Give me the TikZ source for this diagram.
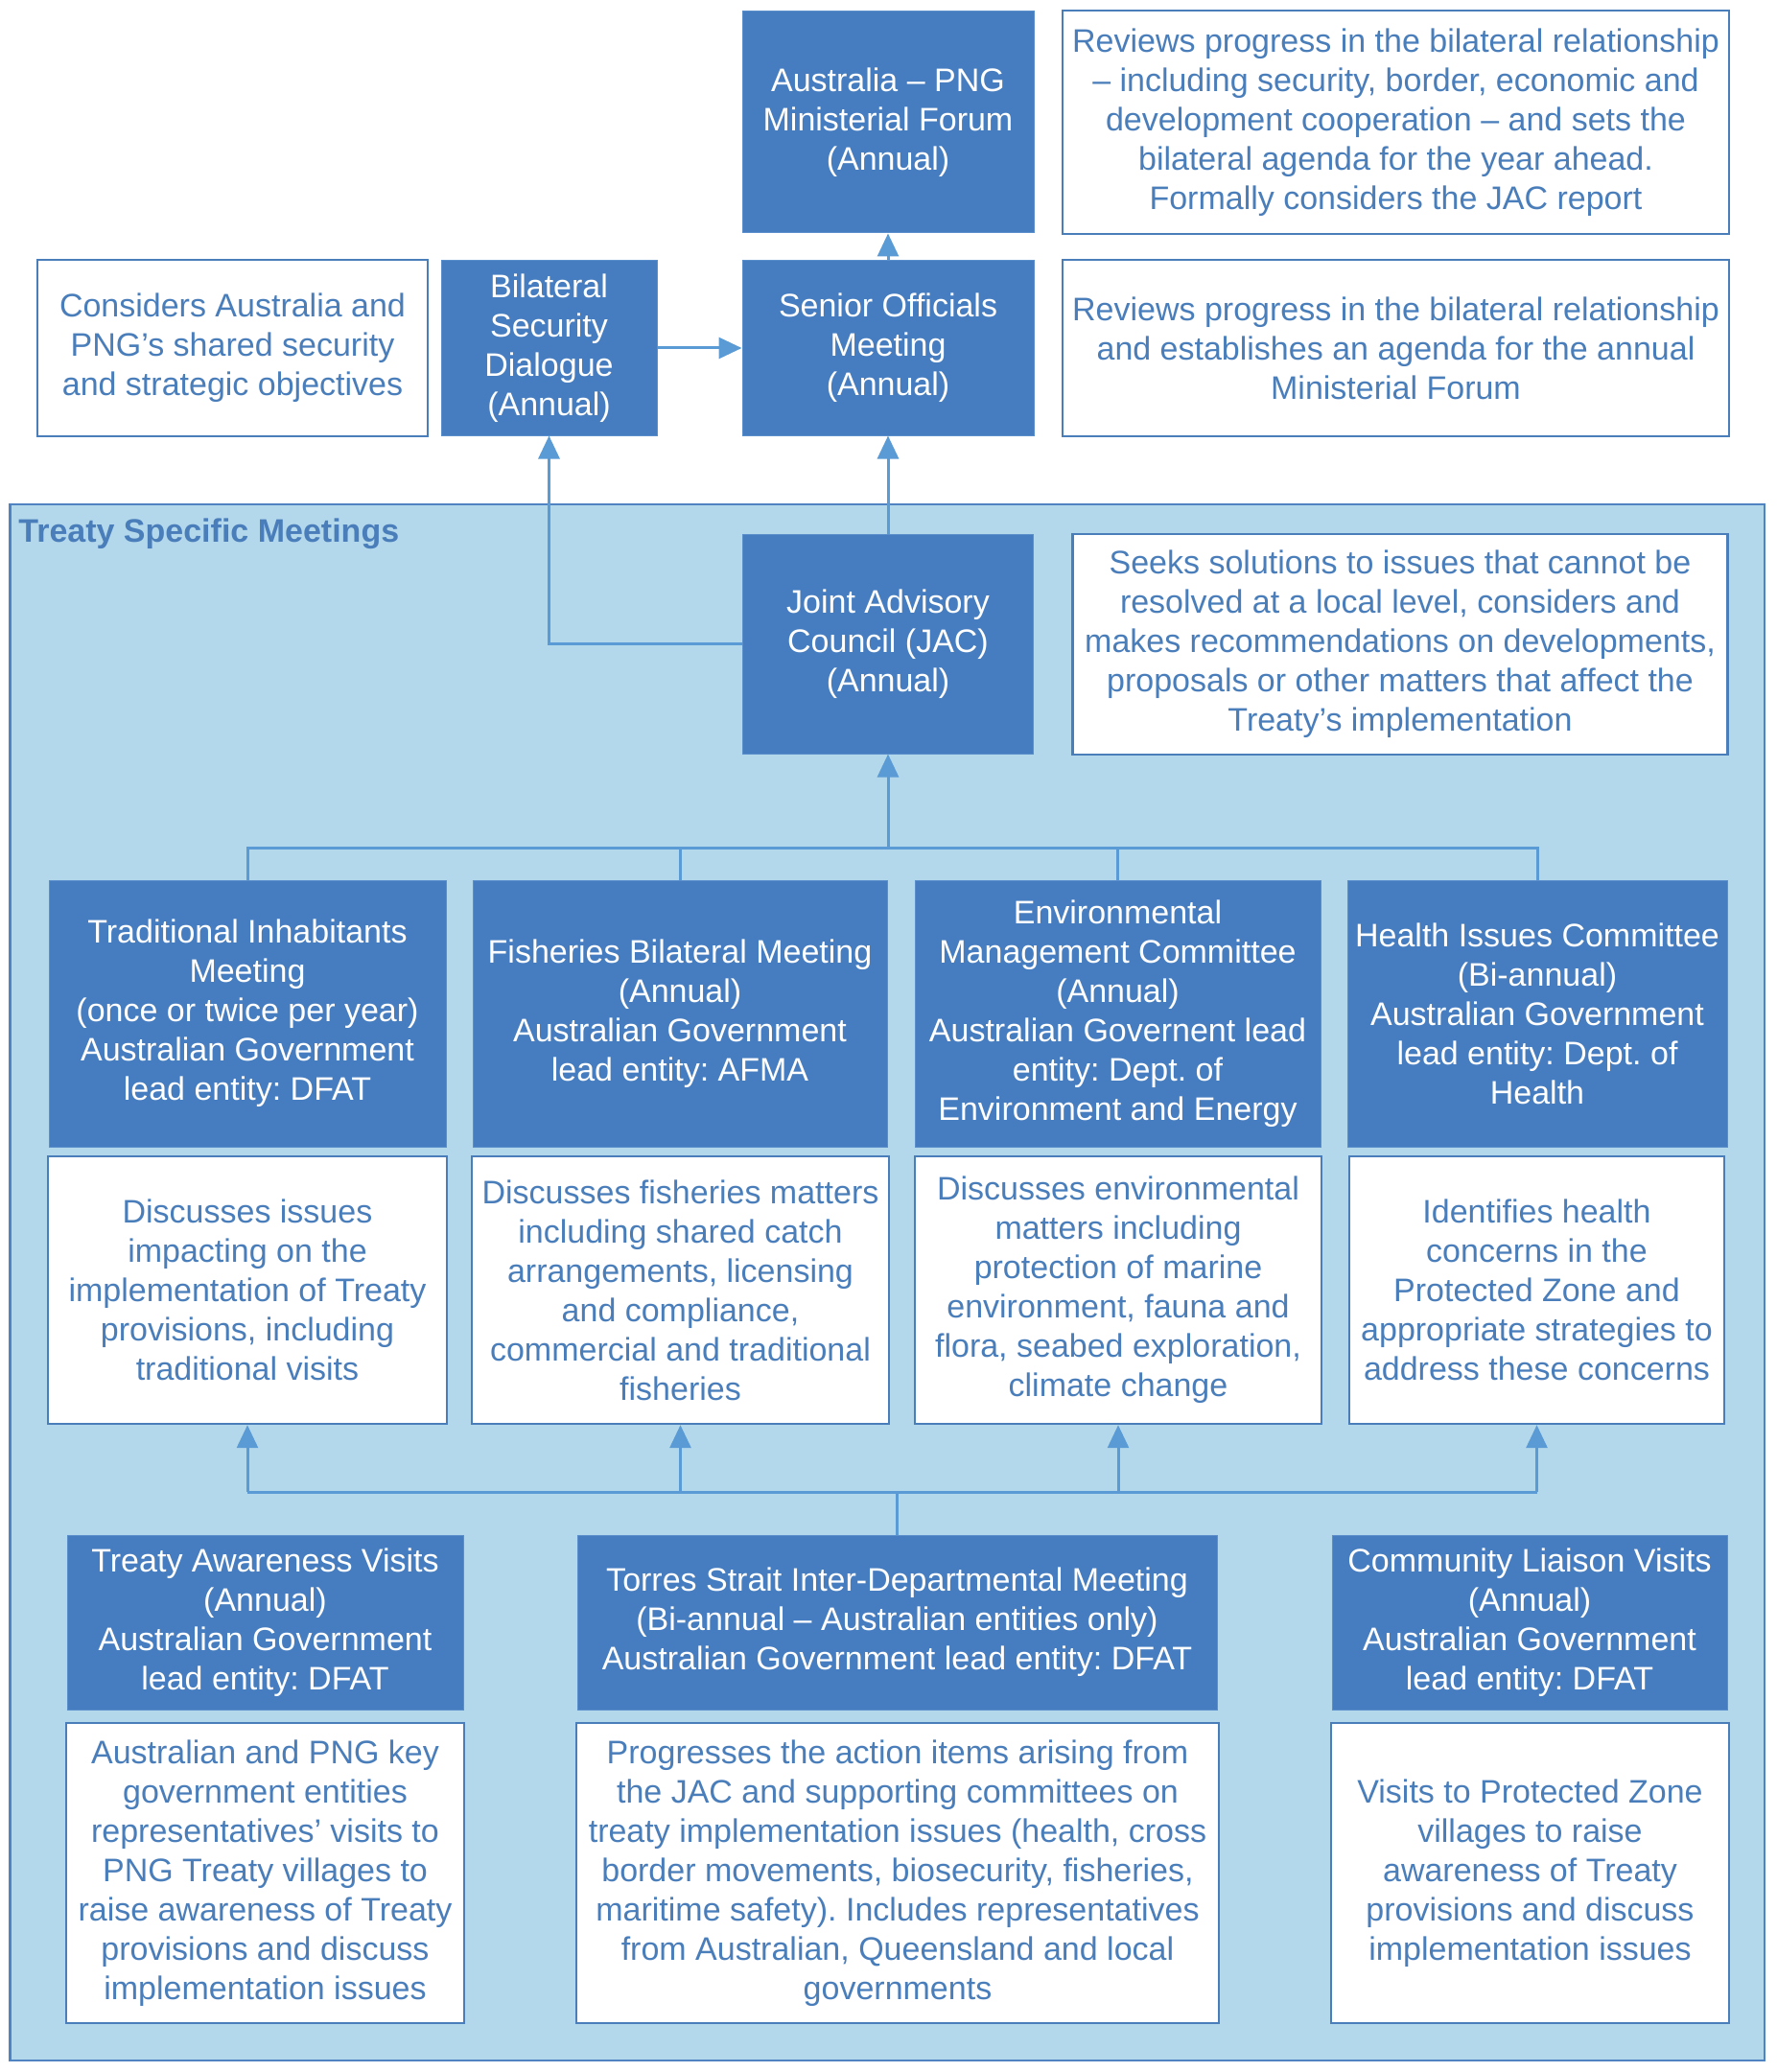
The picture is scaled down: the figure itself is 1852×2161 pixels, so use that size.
\documentclass[tikz,border=0pt]{standalone}
\usepackage{fontspec}
\setmainfont{Liberation Sans}
\usetikzlibrary{arrows.meta}
\definecolor{darkblue}{HTML}{467DC0}
\definecolor{darkedge}{HTML}{5A8FCC}
\definecolor{txtblue}{HTML}{4A7EBB}
\definecolor{lineblue}{HTML}{5B9BD5}
\definecolor{contfill}{HTML}{B4D8EB}
\definecolor{contedge}{HTML}{4F83C2}
\frenchspacing
\tikzset{
  basefont/.style={font=\fontsize{17pt}{20.5pt}\selectfont},
  dbox/.style={basefont, fill=darkblue, draw=darkedge, line width=0.5pt, text=white, align=center, inner sep=0pt},
  wbox/.style={basefont, fill=white, draw=txtblue, line width=1.2pt, text=txtblue, align=center, inner sep=0pt},
  conn/.style={draw=lineblue, line width=1.5pt},
  arr/.style={conn, -{Triangle[length=12pt,width=11pt]}},
}
\begin{document}
\begin{tikzpicture}[x=0.5pt,y=-0.5pt]
\useasboundingbox (0,0) rectangle (1852,2161);
% container
\draw[fill=contfill, draw=contedge, line width=1.3pt] (10.6,526) rectangle (1840,2149);
\node[basefont, font=\fontsize{17pt}{20.5pt}\selectfont\bfseries, text=txtblue, anchor=base west, inner sep=0pt] (lbl) at (19,565.5) {Treaty Specific Meetings};

% top level
\node[dbox, minimum width=152pt, minimum height=115.5pt] (mf) at (926,127.5) {Australia – PNG\\Ministerial Forum\\(Annual)};
\node[wbox, minimum width=347.5pt, minimum height=116.5pt] (mfd) at (1455.5,127.5) {Reviews progress in the bilateral relationship\\– including security, border, economic and\\development cooperation – and sets the\\bilateral agenda for the year ahead.\\Formally considers the JAC report};
\node[wbox, minimum width=203.5pt, minimum height=92pt] (bsdd) at (242.5,363) {Considers Australia and\\PNG’s shared security\\and strategic objectives};
\node[dbox, minimum width=112.5pt, minimum height=91pt] (bsd) at (572.5,363) {Bilateral\\Security\\Dialogue\\(Annual)};
\node[dbox, minimum width=152pt, minimum height=91pt] (som) at (926,363) {Senior Officials\\Meeting\\(Annual)};
\node[wbox, minimum width=347.5pt, minimum height=92pt] (somd) at (1455.5,363) {Reviews progress in the bilateral relationship\\and establishes an agenda for the annual\\Ministerial Forum};

% JAC
\node[dbox, minimum width=151.5pt, minimum height=114.5pt] (jac) at (926,671.5) {Joint Advisory\\Council (JAC)\\(Annual)};
\node[wbox, minimum width=341.5pt, minimum height=115pt] (jacd) at (1460,672) {Seeks solutions to issues that cannot be\\resolved at a local level, considers and\\makes recommendations on developments,\\proposals or other matters that affect the\\Treaty’s implementation};

% row 2
\node[dbox, minimum width=207pt, minimum height=139pt] (tim) at (258,1057) {Traditional Inhabitants\\Meeting\\(once or twice per year)\\Australian Government\\lead entity: DFAT};
\node[dbox, minimum width=216pt, minimum height=139pt] (fbm) at (709,1057) {Fisheries Bilateral Meeting\\(Annual)\\Australian Government\\lead entity: AFMA};
\node[dbox, minimum width=211.5pt, minimum height=139pt] (emc) at (1165.5,1057) {Environmental\\Management Committee\\(Annual)\\Australian Governent lead\\entity: Dept. of\\Environment and Energy};
\node[dbox, minimum width=198pt, minimum height=139pt] (hic) at (1603,1057) {Health Issues Committee\\(Bi-annual)\\Australian Government\\lead entity: Dept. of\\Health};

\node[wbox, minimum width=208pt, minimum height=139.5pt] (timd) at (258,1345.5) {Discusses issues\\impacting on the\\implementation of Treaty\\provisions, including\\traditional visits};
\node[wbox, minimum width=217.5pt, minimum height=139.5pt] (fbmd) at (709.5,1345.5) {Discusses fisheries matters\\including shared catch\\arrangements, licensing\\and compliance,\\commercial and traditional\\fisheries};
\node[wbox, minimum width=212pt, minimum height=139.5pt] (emcd) at (1166,1345.5) {Discusses environmental\\matters including\\protection of marine\\environment, fauna and\\flora, seabed exploration,\\climate change};
\node[wbox, minimum width=195.5pt, minimum height=139.5pt] (hicd) at (1602.5,1345.5) {Identifies health\\concerns in the\\Protected Zone and\\appropriate strategies to\\address these concerns};

% row 3
\node[dbox, minimum width=206.5pt, minimum height=91pt] (tav) at (276.5,1692) {Treaty Awareness Visits\\(Annual)\\Australian Government\\lead entity: DFAT};
\node[dbox, minimum width=333.5pt, minimum height=91pt] (tsidm) at (935.5,1692) {Torres Strait Inter-Departmental Meeting\\(Bi-annual – Australian entities only)\\Australian Government lead entity: DFAT};
\node[dbox, minimum width=206pt, minimum height=91pt] (clv) at (1595,1692) {Community Liaison Visits\\(Annual)\\Australian Government\\lead entity: DFAT};

\node[wbox, minimum width=207.5pt, minimum height=156.5pt] (tavd) at (276.5,1953.5) {Australian and PNG key\\government entities\\representatives’ visits to\\PNG Treaty villages to\\raise awareness of Treaty\\provisions and discuss\\implementation issues};
\node[wbox, minimum width=335pt, minimum height=156.5pt] (tsidmd) at (936,1953.5) {Progresses the action items arising from\\the JAC and supporting committees on\\treaty implementation issues (health, cross\\border movements, biosecurity, fisheries,\\maritime safety). Includes representatives\\from Australian, Queensland and local\\governments};
\node[wbox, minimum width=207.5pt, minimum height=156.5pt] (clvd) at (1595.5,1953.5) {Visits to Protected Zone\\villages to raise\\awareness of Treaty\\provisions and discuss\\implementation issues};

% connectors
\draw[arr] (som.north) -- (mf.south);
\draw[arr] (bsd.east) -- (som.west);
\draw[arr] (jac.north) -- (som.south);
\draw[arr] (jac.west) -| (bsd.south);

\coordinate (bus1) at (926,884.5);
\draw[conn] (tim.north) -- (tim.north |- bus1) -- (hic.north |- bus1) -- (hic.north);
\draw[conn] (fbm.north) -- (fbm.north |- bus1);
\draw[conn] (emc.north) -- (emc.north |- bus1);
\draw[arr] (bus1) -- (jac.south);

\coordinate (bus2) at (935.5,1556);
\draw[conn] (tsidm.north) -- (bus2);
\draw[conn] (timd.south |- bus2) -- (hicd.south |- bus2);
\draw[arr] (timd.south |- bus2) -- (timd.south);
\draw[arr] (fbmd.south |- bus2) -- (fbmd.south);
\draw[arr] (emcd.south |- bus2) -- (emcd.south);
\draw[arr] (hicd.south |- bus2) -- (hicd.south);
\end{tikzpicture}
\end{document}
